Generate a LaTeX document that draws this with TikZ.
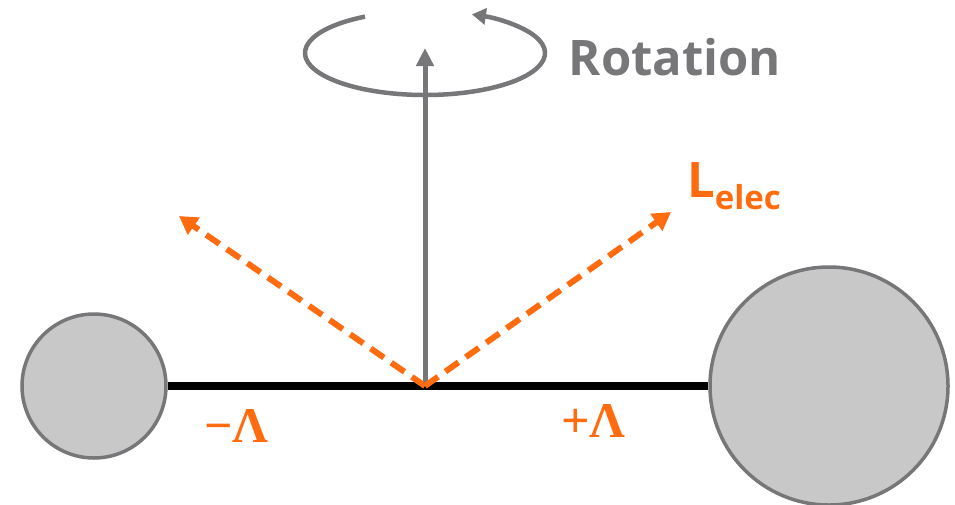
\documentclass[tikz,border=0pt]{standalone}
\usepackage{fontspec}
\setmainfont{Open Sans}
\newfontfamily\lamfont{Liberation Serif}
\usepackage{tikz}
\usetikzlibrary{arrows.meta,positioning}
\definecolor{axisgray}{HTML}{77777A}
\definecolor{elecorange}{HTML}{FF6C10}
\definecolor{massfill}{HTML}{C8C8C8}

\begin{document}
\begin{tikzpicture}[
  x=1pt,y=-1pt,
  mass/.style={draw=axisgray,line width=3.5pt,fill=massfill,circle,inner sep=0pt},
  rod/.style={line width=8pt,color=black},
  axis/.style={-{Triangle[length=18pt,width=17pt]},line width=5pt,color=axisgray},
  spin/.style={-{Triangle[length=14pt,width=16pt]},line width=4.5pt,color=axisgray},
  dipole/.style={-{Triangle[length=18pt,width=20pt]},line width=6pt,color=elecorange,dash pattern=on 16pt off 9pt},
  lbl/.style={inner sep=0pt,font=\bfseries\fontsize{49}{55}\selectfont}
]
\useasboundingbox (0,0) rectangle (955,504);
\node[mass,minimum size=144pt] (lmass) at (94,386) {};
\node[mass,minimum size=238pt] (rmass) at (829,386) {};
\coordinate (o) at (425,386);
\coordinate (ztip) at (425,48);
\coordinate (ltip) at (179,216);
\coordinate (rtip) at (671,212);
\draw[rod] (lmass) -- (rmass);
% rotation
\draw[spin] (425,53) ++(240:120 and 42) arc[start angle=240,end angle=-67,x radius=120,y radius=42];
\draw[axis] (o) -- (ztip);
\node[lbl,text=axisgray] (rot) at (675,57) {Rotation};
% electronic angular momentum
\draw[dipole] (o) -- (ltip);
\draw[dipole] (o) -- (rtip);
\node[lbl,text=elecorange,anchor=base west] (lelec) at (687,197) {L\raisebox{-12pt}{\fontsize{33}{38}\selectfont elec}};
\node[inner sep=0pt,anchor=base west,text=elecorange,font=\lamfont\bfseries\fontsize{50}{56}\selectfont] (lminus) at (204,442) {−Λ};
\node[inner sep=0pt,anchor=base west,text=elecorange,font=\lamfont\bfseries\fontsize{50}{56}\selectfont] (lplus) at (561,437) {+Λ};
\end{tikzpicture}
\end{document}
